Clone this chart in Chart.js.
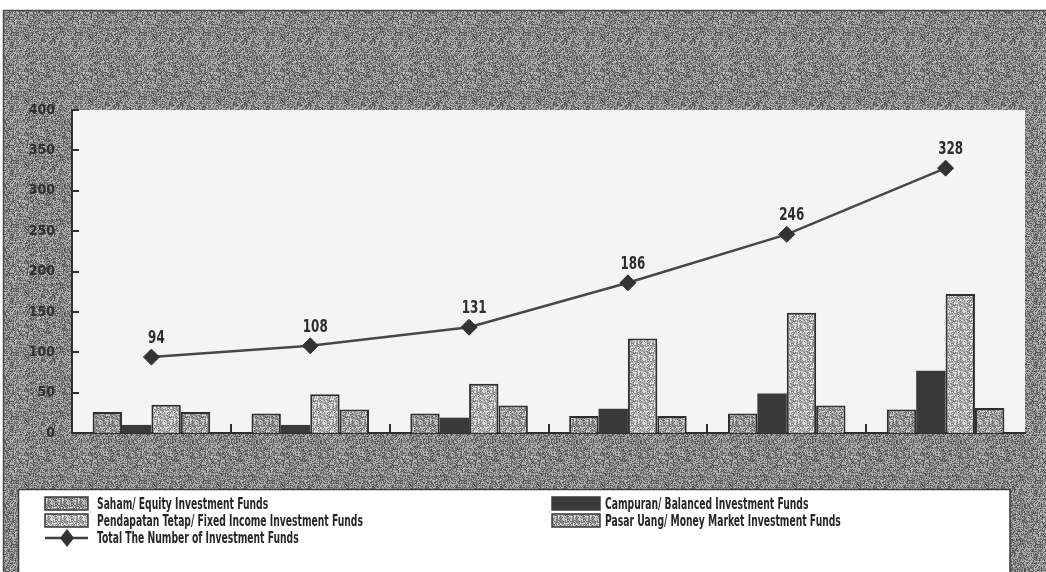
<!DOCTYPE html>
<html>
<head>
<meta charset="utf-8">
<script src="https://cdn.jsdelivr.net/npm/chart.js@4.4.1/dist/chart.umd.min.js"></script>
<style>
  html, body { margin: 0; padding: 0; background: #ffffff; }
  #wrap { width: 1046px; height: 572px; }
</style>
</head>
<body>
<div id="wrap"><canvas id="c" width="1046" height="572"></canvas></div>
<script>
// Number of investment funds by type, per year
const years = ['2000', '2001', '2002', '2003', '2004', '2005'];
const saham = [26, 24, 24, 21, 24, 29];
const campuran = [10, 10, 19, 30, 49, 77];
const pendapatan = [35, 48, 61, 117, 149, 172];
const pasarUang = [26, 29, 34, 21, 34, 31];
const totalFunds = [94, 108, 131, 186, 246, 328];
const yTicks = [0, 50, 100, 150, 200, 250, 300, 350, 400];
const seriesNames = [
  'Saham/ Equity Investment Funds',
  'Campuran/ Balanced Investment Funds',
  'Pendapatan Tetap/ Fixed Income Investment Funds',
  'Pasar Uang/ Money Market Investment Funds',
  'Total The Number of Investment Funds'
];

const FONT = '"Liberation Sans Narrow", "DejaVu Sans Condensed", "Roboto Condensed", "Liberation Sans", sans-serif';

// Stippled fill tiles (fixed hash, so the texture is the same on every render)
function stipple(base, spread, size) {
  const t = document.createElement('canvas');
  t.width = size; t.height = size;
  const g = t.getContext('2d');
  const img = g.createImageData(size, size);
  for (let y = 0; y < size; y++) {
    for (let x = 0; x < size; x++) {
      const h = ((x * 374761393) ^ (y * 668265263) ^ ((x + y) * 2246822519)) >>> 0;
      const r = ((h ^ (h >>> 13)) * 1274126177) >>> 0;
      const step = (r >>> 24) / 255;
      const v = Math.max(0, Math.min(255, Math.round(base + (step - 0.5) * 2 * spread)));
      const i = (y * size + x) * 4;
      img.data[i] = v; img.data[i + 1] = v; img.data[i + 2] = v; img.data[i + 3] = 255;
    }
  }
  g.putImageData(img, 0, 0);
  return g.createPattern(t, 'repeat');
}

const patBand = stipple(132, 60, 64);
const patSaham = stipple(150, 70, 16);
const patPendapatan = stipple(178, 70, 16);
const patPasar = stipple(158, 70, 16);
const solidCampuran = '#3a3a3a';

const swatches = [patSaham, solidCampuran, patPendapatan, patPasar];

// Draws text squeezed horizontally by factor sx, anchored at its left edge (or centre)
function squeezedText(ctx, text, x, y, sx, align) {
  ctx.save();
  ctx.translate(x, y);
  ctx.scale(sx, 1);
  ctx.textAlign = align || 'left';
  ctx.fillText(text, 0, 0);
  ctx.restore();
}

const framePlugin = {
  id: 'frame',
  beforeDraw(chart) {
    const ctx = chart.ctx, a = chart.chartArea;
    ctx.save();
    ctx.fillStyle = '#ffffff';
    ctx.fillRect(0, 0, chart.width, chart.height);
    ctx.fillStyle = patBand;
    ctx.fillRect(3, 10, chart.width - 3, chart.height - 10);
    ctx.strokeStyle = '#4a4a4a';
    ctx.lineWidth = 1.5;
    ctx.beginPath();
    ctx.moveTo(3.5, chart.height); ctx.lineTo(3.5, 10.5); ctx.lineTo(chart.width, 10.5);
    ctx.stroke();
    // plot area
    ctx.fillStyle = '#f4f4f4';
    ctx.fillRect(a.left, a.top, a.right - a.left, a.bottom - a.top);
    // legend box
    ctx.fillStyle = '#ffffff';
    ctx.fillRect(18, 489, 992, chart.height - 489);
    ctx.strokeStyle = '#3c3c3c';
    ctx.lineWidth = 1.5;
    ctx.beginPath();
    ctx.moveTo(18, 489.5); ctx.lineTo(1010, 489.5); ctx.lineTo(1010, chart.height);
    ctx.moveTo(18.5, 489); ctx.lineTo(18.5, chart.height);
    ctx.stroke();
    ctx.restore();
  },
  afterDraw(chart) {
    const ctx = chart.ctx, a = chart.chartArea;
    const xs = chart.scales.x, ys = chart.scales.y;
    ctx.save();
    ctx.strokeStyle = '#2f2f2f';
    ctx.lineWidth = 2;
    // inner tick marks on the value axis
    ctx.beginPath();
    yTicks.forEach(v => {
      if (v === 0) return;
      const y = Math.round(ys.getPixelForValue(v));
      ctx.moveTo(a.left, y); ctx.lineTo(a.left + 7, y);
    });
    // inner tick marks between categories
    for (let i = 0; i < years.length - 1; i++) {
      const x = Math.round((xs.getPixelForValue(i) + xs.getPixelForValue(i + 1)) / 2);
      ctx.moveTo(x, a.bottom); ctx.lineTo(x, a.bottom - 9);
    }
    ctx.stroke();

    // value labels above the total line
    const meta = chart.getDatasetMeta(0);
    ctx.fillStyle = '#2e2e2e';
    ctx.font = 'bold 17px ' + FONT;
    ctx.textBaseline = 'bottom';
    meta.data.forEach((pt, i) => {
      squeezedText(ctx, String(totalFunds[i]), pt.x + 5, pt.y - 10, 0.78, 'center');
    });

    // legend
    ctx.font = 'bold 16px ' + FONT;
    ctx.textBaseline = 'middle';
    const sq = 0.64;
    const cols = [{ sx: 45, sw: 43, tx: 97 }, { sx: 552, sw: 48, tx: 605 }];
    const rows = [504, 521];
    const order = [[0, 1], [2, 3]];
    order.forEach((pair, r) => {
      pair.forEach((s, c) => {
        const col = cols[c], y = rows[r];
        ctx.fillStyle = swatches[s];
        ctx.fillRect(col.sx, y - 7, col.sw, 13);
        ctx.strokeStyle = '#3a3a3a';
        ctx.lineWidth = 1.5;
        ctx.strokeRect(col.sx, y - 7, col.sw, 13);
        ctx.fillStyle = '#262626';
        squeezedText(ctx, seriesNames[s], col.tx, y + 1, sq, 'left');
      });
    });
    // line entry
    const ly = 538;
    ctx.strokeStyle = '#3e3e3e';
    ctx.lineWidth = 2.5;
    ctx.beginPath(); ctx.moveTo(45, ly); ctx.lineTo(88, ly); ctx.stroke();
    ctx.fillStyle = '#333333';
    ctx.beginPath();
    ctx.moveTo(67, ly - 9); ctx.lineTo(74, ly); ctx.lineTo(67, ly + 9); ctx.lineTo(60, ly);
    ctx.closePath(); ctx.fill();
    ctx.fillStyle = '#262626';
    squeezedText(ctx, seriesNames[4], 97, ly + 1, sq, 'left');
    ctx.restore();
  }
};

const barBorder = { top: 2, left: 2, right: 2, bottom: 0 };

new Chart(document.getElementById('c').getContext('2d'), {
  data: {
    labels: years,
    datasets: [
      {
        type: 'line', label: seriesNames[4], data: totalFunds, order: 0,
        borderColor: '#474747', borderWidth: 2.5, tension: 0,
        pointStyle: 'rectRot', pointRadius: 8,
        pointBackgroundColor: '#333333', pointBorderColor: '#333333', pointBorderWidth: 1
      },
      { type: 'bar', label: seriesNames[0], data: saham, order: 1, backgroundColor: patSaham, borderColor: '#2f2f2f', borderWidth: barBorder, borderSkipped: 'bottom' },
      { type: 'bar', label: seriesNames[1], data: campuran, order: 1, backgroundColor: solidCampuran, borderColor: '#2f2f2f', borderWidth: 0 },
      { type: 'bar', label: seriesNames[2], data: pendapatan, order: 1, backgroundColor: patPendapatan, borderColor: '#2f2f2f', borderWidth: barBorder, borderSkipped: 'bottom' },
      { type: 'bar', label: seriesNames[3], data: pasarUang, order: 1, backgroundColor: patPasar, borderColor: '#2f2f2f', borderWidth: barBorder, borderSkipped: 'bottom' }
    ]
  },
  options: {
    responsive: false,
    animation: false,
    devicePixelRatio: 1,
    layout: { padding: { left: 0, top: 110, right: 21, bottom: 139 } },
    datasets: { bar: { categoryPercentage: 0.74, barPercentage: 1.0 } },
    plugins: { legend: { display: false }, tooltip: { enabled: false } },
    scales: {
      x: {
        offset: true,
        grid: { display: false, drawTicks: false },
        border: { display: true, color: '#2f2f2f', width: 2 },
        ticks: { display: false },
        afterFit(s) { s.height = 0; }
      },
      y: {
        min: 0, max: 400,
        afterBuildTicks(s) { s.ticks = yTicks.map(v => ({ value: v })); },
        grid: { display: false, drawTicks: false },
        border: { display: true, color: '#2f2f2f', width: 2 },
        ticks: {
          color: '#303030', padding: 17,
          font: { family: FONT, size: 14, weight: 'bold' }
        },
        afterFit(s) { s.width = 72; }
      }
    }
  },
  plugins: [framePlugin]
});
</script>
</body>
</html>
